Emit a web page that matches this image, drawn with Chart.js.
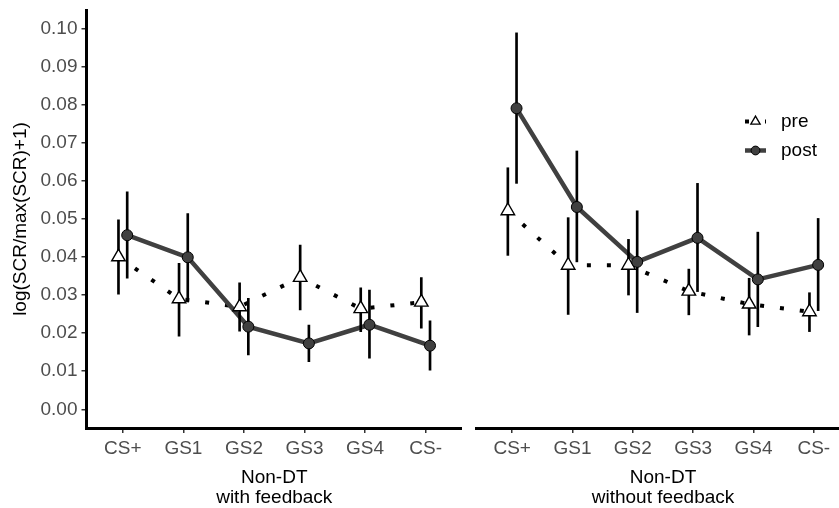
<!DOCTYPE html>
<html><head><meta charset="utf-8">
<script src="https://cdn.jsdelivr.net/npm/chart.js@4/dist/chart.umd.min.js"></script>
<style>
html,body{margin:0;padding:0;background:#fff;}
#wrap{position:relative;width:839px;height:508px;overflow:hidden;background:#fff;}
#c1{position:absolute;left:0;top:0;}
#c2{position:absolute;left:466px;top:0;}
</style></head><body>
<div id="wrap"><canvas id="c1" width="462" height="508"></canvas><canvas id="c2" width="394" height="508"></canvas></div>
<script>
// ---- data ----
const categories = ['CS+','GS1','GS2','GS3','GS4','CS-'];
const yTickValues = [0.00,0.01,0.02,0.03,0.04,0.05,0.06,0.07,0.08,0.09,0.10];
const seriesNames = ['pre','post'];
const yTitle = 'log(SCR/max(SCR)+1)';
const panelTitleFb = ['Non-DT','with feedback'];
const panelTitleNoFb = ['Non-DT','without feedback'];

// with feedback
const fbPre     = [0.0400,0.0290,0.0269,0.0346,0.0264,0.0281];
const fbPreLo   = [0.0302,0.0192,0.0205,0.0261,0.0204,0.0213];
const fbPreHi   = [0.0497,0.0383,0.0332,0.0431,0.0319,0.0346];
const fbPost    = [0.0457,0.0399,0.0217,0.0173,0.0222,0.0167];
const fbPostLo  = [0.0344,0.0282,0.0143,0.0125,0.0134,0.0103];
const fbPostHi  = [0.0571,0.0514,0.0291,0.0221,0.0313,0.0232];

// without feedback
const nfPre     = [0.0521,0.0378,0.0378,0.0310,0.0276,0.0256];
const nfPreLo   = [0.0404,0.0249,0.0300,0.0248,0.0195,0.0204];
const nfPreHi   = [0.0634,0.0503,0.0446,0.0368,0.0344,0.0306];
const nfPost    = [0.0790,0.0531,0.0387,0.0450,0.0341,0.0379];
const nfPostLo  = [0.0593,0.0387,0.0254,0.0309,0.0217,0.0259];
const nfPostHi  = [0.0988,0.0678,0.0521,0.0593,0.0465,0.0501];

// ---- styling ----
const FONT = "'Liberation Sans', Arial, Helvetica, sans-serif";
const FS = 19;
const DODGE = 0.072;
const POST_COL = '#404040';
const TICK_COL = '#4d4d4d';

function pts(vals, off){ return vals.map((v,i)=>({x:i+off, y:v})); }
function bars(lo, hi, off){ return lo.map((l,i)=>({x:i+off, y:[l, hi[i]]})); }

const legendPlugin = {
  id:'customLegend',
  afterDraw(chart){
    if(!chart.options.plugins.customLegend || !chart.options.plugins.customLegend.show) return;
    const ctx = chart.ctx;
    const x0 = 279, x1 = 300, xc = (x0+x1)/2, tx = 315;
    const ys = [121.5, 150.5];
    ctx.save();
    ctx.beginPath();
    ctx.setLineDash([4,16]);
    ctx.lineWidth = 4; ctx.strokeStyle = '#000'; ctx.lineCap='butt';
    ctx.moveTo(x0, ys[0]); ctx.lineTo(x1, ys[0]); ctx.stroke();
    ctx.setLineDash([]);
    const r = 5.4;
    ctx.beginPath();
    ctx.moveTo(xc, ys[0]-r);
    ctx.lineTo(xc + r*Math.sin(2*Math.PI/3), ys[0] - r*Math.cos(2*Math.PI/3));
    ctx.lineTo(xc + r*Math.sin(4*Math.PI/3), ys[0] - r*Math.cos(4*Math.PI/3));
    ctx.closePath();
    ctx.fillStyle='#fff'; ctx.fill(); ctx.lineWidth=1.3; ctx.stroke();
    ctx.beginPath();
    ctx.lineWidth = 4.5; ctx.strokeStyle = POST_COL;
    ctx.moveTo(x0, ys[1]); ctx.lineTo(x1, ys[1]); ctx.stroke();
    ctx.beginPath(); ctx.arc(xc, ys[1], 4.4, 0, Math.PI*2);
    ctx.fillStyle = POST_COL; ctx.fill(); ctx.lineWidth=1; ctx.strokeStyle='#000'; ctx.stroke();
    ctx.fillStyle = '#000'; ctx.font = FS + 'px ' + FONT; ctx.textBaseline='middle'; ctx.textAlign='left';
    ctx.fillText(seriesNames[0], tx, ys[0]);
    ctx.fillText(seriesNames[1], tx, ys[1]);
    ctx.restore();
  }
};

function makePanel(canvas, pre, preLo, preHi, post, postLo, postHi, xTitle, showY, showLegend){
  return new Chart(canvas, {
    type:'line',
    data:{
      datasets:[
        {label:seriesNames[0]+' line', data:pts(pre,-DODGE), borderColor:'#000', borderWidth:4, borderDash:[4,16], borderCapStyle:'butt', pointRadius:0, fill:false, order:6},
        {label:seriesNames[1]+' line', data:pts(post,DODGE), borderColor:POST_COL, borderWidth:4.5, pointRadius:0, fill:false, order:5},
        {type:'bar', label:seriesNames[0]+' err', data:bars(preLo,preHi,-DODGE), backgroundColor:'#000', barThickness:2, grouped:false, borderWidth:0, order:4},
        {type:'bar', label:seriesNames[1]+' err', data:bars(postLo,postHi,DODGE), backgroundColor:'#000', barThickness:2, grouped:false, borderWidth:0, order:3},
        {label:seriesNames[0], data:pts(pre,-DODGE), showLine:false, pointStyle:'triangle', pointRadius:7.8, pointBackgroundColor:'#fff', pointBorderColor:'#000', pointBorderWidth:1.4, order:2},
        {label:seriesNames[1], data:pts(post,DODGE), showLine:false, pointStyle:'circle', pointRadius:5.5, pointBackgroundColor:POST_COL, pointBorderColor:'#000', pointBorderWidth:1, order:1}
      ]
    },
    options:{
      responsive:false, animation:false, devicePixelRatio:1,
      layout:{autoPadding:false, padding:{top:10, left: showY?0:10, right: showY?0:10, bottom:0}},
      plugins:{legend:{display:false}, tooltip:{enabled:false}, customLegend:{show:showLegend}},
      scales:{
        x:{
          type:'linear', min:-0.6, max:categories.length-0.4, offset:false,
          afterBuildTicks(s){ s.ticks = categories.map((c,i)=>({value:i})); },
          afterFit(s){ s.height = 80; s.paddingLeft = 0; s.paddingRight = 0; },
          ticks:{callback:(v)=>categories[v], font:{family:FONT,size:FS}, color:TICK_COL, padding:4, maxRotation:0, autoSkip:false},
          grid:{display:true, offset:false, drawOnChartArea:false, drawTicks:true, tickLength:5, color:'#333', lineWidth:1.5},
          border:{display:true, color:'#000', width:3},
          title:{display:true, text:xTitle, font:{family:FONT,size:FS, lineHeight:1.05}, color:'#000', padding:{top:1,bottom:0}}
        },
        y:{
          display: showY,
          min:-0.0049, max:0.1048,
          afterBuildTicks(s){ s.ticks = yTickValues.map(v=>({value:v})); },
          afterFit(s){ s.width = showY ? 86.5 : 0; s.paddingTop = 0; s.paddingBottom = 0; },
          ticks:{callback:(v)=>v.toFixed(2), font:{family:FONT,size:FS}, color:TICK_COL, padding:4},
          grid:{display:true, offset:false, drawOnChartArea:false, drawTicks:true, tickLength:5, color:'#333', lineWidth:1.5},
          border:{display:true, color:'#000', width:3},
          title:{display:true, text:yTitle, font:{family:FONT,size:FS}, color:'#000', padding:{top:9,bottom:0}}
        }
      }
    },
    plugins:[legendPlugin]
  });
}

makePanel(document.getElementById('c1'), fbPre, fbPreLo, fbPreHi, fbPost, fbPostLo, fbPostHi, panelTitleFb, true, false);
makePanel(document.getElementById('c2'), nfPre, nfPreLo, nfPreHi, nfPost, nfPostLo, nfPostHi, panelTitleNoFb, false, true);
</script>
</body></html>
